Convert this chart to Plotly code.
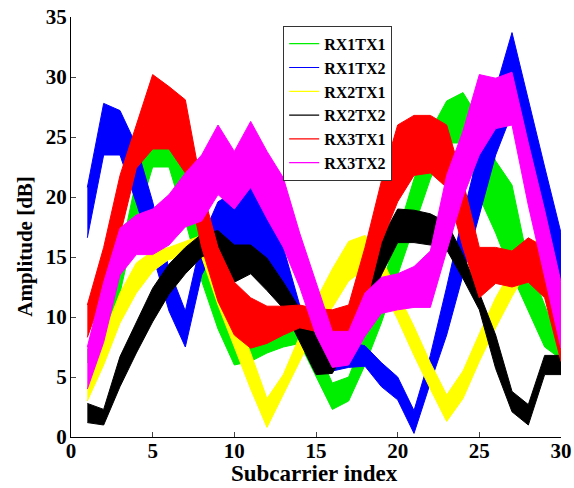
import plotly.graph_objects as go

subcarrier = list(range(1, 31))

series_names = ["RX1TX1", "RX1TX2", "RX2TX1", "RX2TX2", "RX3TX1", "RX3TX2"]
series_colors = ["#00ee00", "#0000ff", "#ffff00", "#000000", "#ff0000", "#ff00ff"]

# lower / upper envelopes of each bundle of measurements (dB)
rx1tx1_lo = [6.2, 6.2, 12.0, 18.0, 22.5, 22.5, 18.0, 13.0, 9.0, 6.0, 6.3, 7.0, 7.5, 7.8, 5.0, 2.3, 3.0, 6.0, 9.5, 13.5, 17.5, 21.5, 24.5, 24.5, 20.0, 17.0, 13.5, 10.5, 7.5, 6.5]
rx1tx1_hi = [7.3, 7.2, 15.0, 21.5, 27.0, 27.5, 24.0, 17.0, 12.0, 8.0, 8.2, 8.7, 9.2, 9.5, 7.5, 4.5, 5.0, 8.5, 12.5, 17.0, 21.5, 25.5, 28.0, 28.7, 26.5, 23.0, 21.0, 14.5, 11.0, 7.5]

rx1tx2_lo = [16.6, 23.5, 23.5, 19.5, 15.2, 10.5, 7.5, 13.5, 16.0, 15.5, 16.0, 14.5, 11.0, 8.0, 6.5, 5.5, 5.8, 5.9, 4.2, 3.1, 0.3, 4.5, 8.5, 13.5, 18.5, 23.5, 27.0, 22.5, 17.5, 13.0]
rx1tx2_hi = [20.8, 27.8, 27.2, 24.3, 19.6, 14.0, 10.5, 16.5, 19.6, 20.4, 20.8, 19.1, 15.8, 11.0, 9.5, 8.3, 7.9, 7.6, 6.2, 5.0, 2.2, 6.8, 12.5, 18.5, 24.0, 29.0, 33.7, 28.0, 22.5, 17.0]

rx2tx1_lo = [3.0, 6.0, 9.5, 12.0, 13.8, 14.8, 15.0, 15.0, 11.0, 7.5, 4.0, 0.8, 3.5, 6.3, 9.0, 10.8, 13.0, 14.0, 12.5, 9.8, 6.8, 4.0, 1.3, 3.2, 6.3, 9.1, 11.7, 14.0, 15.0, 7.0]
rx2tx1_hi = [4.5, 8.5, 12.0, 14.5, 15.5, 15.8, 16.3, 16.8, 13.5, 10.5, 7.0, 3.2, 5.2, 8.4, 11.4, 14.0, 16.3, 16.8, 15.0, 12.0, 9.2, 6.2, 3.5, 5.5, 8.6, 11.6, 14.0, 16.2, 16.5, 9.0]

rx2tx2_lo = [1.2, 1.0, 4.2, 7.0, 9.6, 11.9, 13.6, 15.0, 15.6, 12.9, 13.6, 12.2, 10.7, 8.0, 5.2, 5.3, 7.8, 10.0, 13.5, 16.2, 16.2, 16.0, 15.6, 13.2, 10.6, 5.7, 2.1, 1.0, 5.2, 5.2]
rx2tx2_hi = [2.8, 2.3, 6.7, 9.6, 12.4, 14.4, 15.8, 16.9, 17.2, 16.0, 16.0, 14.9, 12.9, 10.7, 8.5, 7.8, 9.2, 12.8, 16.5, 19.0, 18.9, 18.6, 17.9, 15.2, 12.0, 8.5, 3.8, 2.7, 6.8, 6.8]

rx3tx1_lo = [8.3, 12.1, 16.8, 22.4, 24.0, 24.0, 22.0, 15.8, 11.3, 8.5, 7.4, 7.8, 8.5, 9.1, 8.8, 8.1, 8.5, 10.8, 16.2, 19.6, 21.8, 22.0, 20.8, 15.8, 11.6, 12.8, 12.5, 12.9, 11.6, 6.3]
rx3tx1_hi = [11.0, 15.8, 21.8, 26.0, 30.2, 29.2, 28.1, 20.8, 15.8, 12.9, 11.6, 10.9, 10.9, 11.0, 10.7, 10.6, 11.0, 15.8, 21.3, 26.0, 26.8, 26.8, 26.0, 21.3, 15.8, 15.8, 15.5, 16.6, 15.8, 7.1]

rx3tx2_lo = [4.0, 7.9, 13.5, 15.2, 15.2, 16.0, 17.5, 18.0, 20.2, 19.0, 20.8, 18.2, 15.8, 12.5, 8.5, 5.8, 6.0, 8.4, 10.3, 10.6, 10.8, 10.8, 15.5, 20.0, 23.5, 25.7, 26.0, 19.3, 13.3, 7.4]
rx3tx2_hi = [7.5, 12.9, 17.4, 18.5, 19.0, 20.2, 22.0, 23.5, 26.0, 23.8, 26.3, 23.8, 21.6, 17.0, 12.9, 8.8, 8.8, 12.0, 13.3, 13.6, 14.2, 15.5, 21.8, 25.5, 30.2, 29.9, 30.4, 24.5, 18.9, 12.9]

bands_lo = [rx1tx1_lo, rx1tx2_lo, rx2tx1_lo, rx2tx2_lo, rx3tx1_lo, rx3tx2_lo]
bands_hi = [rx1tx1_hi, rx1tx2_hi, rx2tx1_hi, rx2tx2_hi, rx3tx1_hi, rx3tx2_hi]

x_ticks = [0, 5, 10, 15, 20, 25, 30]
y_ticks = [0, 5, 10, 15, 20, 25, 30, 35]

FONT = "Liberation Serif"

fig = go.Figure()

for name, color, lo, hi in zip(series_names, series_colors, bands_lo, bands_hi):
    xs = subcarrier + subcarrier[::-1]
    ys = hi + lo[::-1]
    fig.add_trace(go.Scatter(
        x=xs, y=ys, mode="lines", fill="toself", fillcolor=color,
        line=dict(color=color, width=1), showlegend=False, hoverinfo="skip",
    ))

for i, (name, color) in enumerate(zip(series_names, series_colors)):
    fig.add_trace(go.Scatter(
        x=[None], y=[None], mode="lines", name=name, legendgroup=name,
        line=dict(color=color, width=1.2),
    ))

fig.update_layout(
    width=574, height=488, autosize=False,
    margin=dict(l=71, r=13, t=17, b=51, pad=0, autoexpand=False),
    paper_bgcolor="white", plot_bgcolor="white",
    font=dict(family=FONT, color="black"),
    showlegend=True,
    legend=dict(
        x=0.433, y=0.979, xanchor="left", yanchor="top",
        bordercolor="#333333", borderwidth=1, bgcolor="white",
        font=dict(family=FONT, size=16, color="black", weight="bold"),
        tracegroupgap=0, itemwidth=30,
    ),
    xaxis=dict(
        range=[0, 30], tickvals=x_ticks, ticks="inside", ticklen=5,
        showline=True, linecolor="black", linewidth=1, mirror=False,
        showgrid=False, zeroline=False, automargin=False,
        ticklabelstandoff=-5,
        tickfont=dict(family=FONT, size=21, color="black", weight="bold"),
    ),
    yaxis=dict(
        range=[0, 35], tickvals=y_ticks, ticks="inside", ticklen=5,
        showline=True, linecolor="black", linewidth=1, mirror=False,
        showgrid=False, zeroline=False, automargin=False,
        ticklabelstandoff=-1,
        tickfont=dict(family=FONT, size=21, color="black", weight="bold"),
    ),
    annotations=[
        dict(text="Subcarrier index", xref="paper", yref="paper", x=0.496, y=-0.087,
             xanchor="center", yanchor="middle", showarrow=False,
             font=dict(family=FONT, size=23, color="black", weight="bold")),
        dict(text="Amplitude [dB]", xref="paper", yref="paper", x=-0.093, y=0.454,
             xanchor="center", yanchor="middle", showarrow=False, textangle=-90,
             font=dict(family=FONT, size=21, color="black", weight="bold")),
    ],
)

fig.write_html("out.html", config={"responsive": False})
